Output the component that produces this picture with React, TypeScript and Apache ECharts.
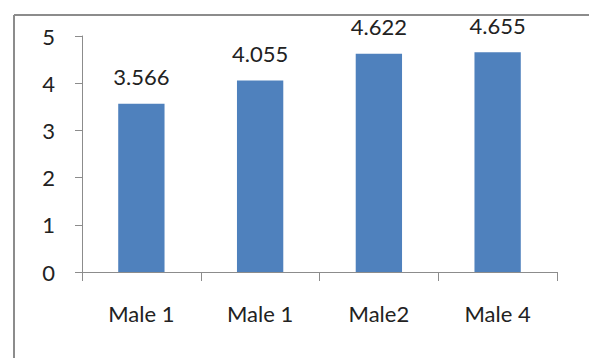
import React, { useEffect, useRef } from "react";
import * as echarts from "echarts";

const categories = ["Male 1", "Male 1", "Male2", "Male 4"];
const values = [3.566, 4.055, 4.622, 4.655];
const yTicks = [0, 1, 2, 3, 4, 5];

export default function App() {
  const ref = useRef<HTMLDivElement>(null);
  useEffect(() => {
    document.body.style.margin = "0";
    const chart = echarts.init(ref.current!, null, { renderer: "svg" });
    const font = "Lato, 'Open Sans', sans-serif";
    chart.setOption({
      animation: false,
      backgroundColor: "#ffffff",
      grid: { left: 82, right: 32, top: 36, bottom: 86, containLabel: false },
      graphic: [
        { type: "line", shape: { x1: 14, y1: 15, x2: 589, y2: 15 }, style: { stroke: "#8c8c8c", lineWidth: 2 } },
        { type: "line", shape: { x1: 14, y1: 15, x2: 14, y2: 358 }, style: { stroke: "#8c8c8c", lineWidth: 2 } },
      ],
      xAxis: {
        type: "category",
        data: categories,
        axisLine: { lineStyle: { color: "#8c8c8c", width: 1 } },
        axisTick: { show: true, length: 9, alignWithLabel: false, lineStyle: { color: "#8c8c8c" } },
        axisLabel: { color: "#222", fontFamily: font, fontSize: 22, margin: 30 },
      },
      yAxis: {
        type: "value",
        min: yTicks[0],
        max: yTicks[yTicks.length - 1],
        interval: 1,
        splitLine: { show: false },
        axisLine: { show: true, lineStyle: { color: "#8c8c8c", width: 1 } },
        axisTick: { show: true, length: 7, inside: false, lineStyle: { color: "#8c8c8c" } },
        axisLabel: { color: "#222", fontFamily: font, fontSize: 22, margin: 27 },
      },
      series: [
        {
          type: "bar",
          data: values,
          barWidth: "39%",
          itemStyle: { color: "#4f81bd" },
          label: {
            show: true,
            position: "top",
            distance: 16,
            color: "#222",
            fontFamily: font,
            fontSize: 22,
            formatter: (p: any) => p.value.toFixed(3),
          },
        },
      ],
    });
    return () => chart.dispose();
  }, []);
  return <div ref={ref} style={{ width: 589, height: 358 }} />;
}
